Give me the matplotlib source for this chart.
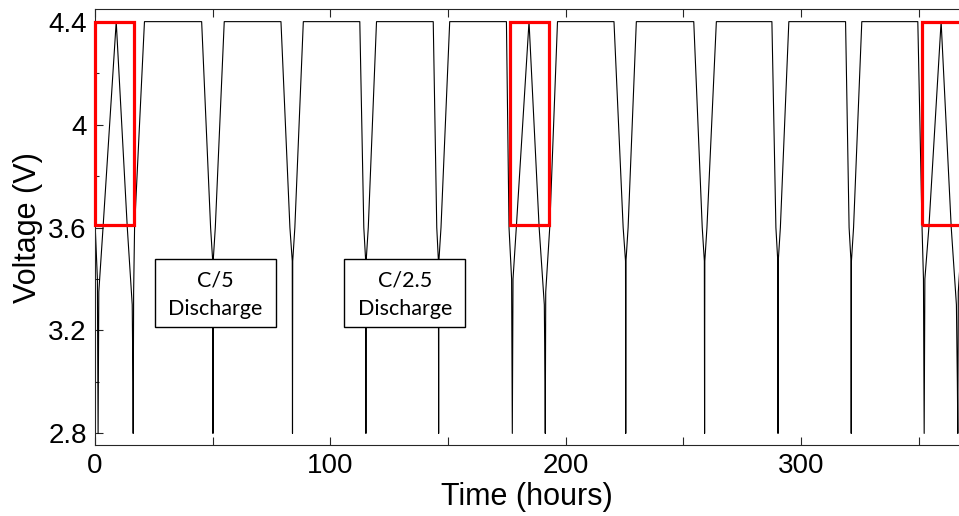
#!/usr/bin/env python3
"""
Voltage cycling trace with highlighted reference-performance tests.
"""

import matplotlib
matplotlib.use("Agg")
import matplotlib.pyplot as plt
from matplotlib.patches import Rectangle
from matplotlib.ticker import FixedLocator, FuncFormatter

# --- data (time in hours, voltage in V) ---
time_h = [
    # RPT 1
    0.0, 1.0, 1.3, 1.6, 3.4, 9.0, 13.7, 15.8, 16.1, 16.2, 16.4, 16.8, 21.0,
    # C/5 cycles
    45.3, 49.1, 50.0, 50.1, 50.2, 51.1, 54.9,
    79.0, 82.8, 83.8, 83.9, 84.0, 84.9, 88.5,
    # C/2.5 cycles
    112.5, 114.2, 115.0, 115.1, 115.2, 116.1, 119.6,
    143.7, 145.2, 145.9, 146.0, 146.1, 147.0, 150.7,
    # RPT 2
    174.8, 175.9, 177.0, 177.3, 177.6, 179.0, 184.4, 188.7, 190.9, 191.2,
    191.3, 191.5, 193.2, 196.5,
    # C/5 cycles
    220.5, 224.4, 225.4, 225.5, 225.6, 226.5, 230.0,
    254.4, 258.0, 258.9, 259.0, 259.1, 260.0, 264.0,
    # C/2.5 cycles
    287.6, 289.3, 290.1, 290.2, 290.3, 291.2, 294.8,
    318.9, 320.4, 321.2, 321.3, 321.4, 322.3, 325.8,
    # RPT 3
    349.6, 351.4, 352.0, 352.3, 352.6, 354.3, 359.5, 363.8, 366.0, 366.4,
    366.6, 366.8, 368.5, 372.0,
]
volt_v = [
    3.62, 3.40, 2.80, 3.35, 3.60, 4.40, 3.60, 3.30, 3.00, 2.80, 3.35, 3.60, 4.40,
    4.40, 3.60, 3.47, 2.80, 3.47, 3.60, 4.40,
    4.40, 3.60, 3.47, 2.80, 3.47, 3.60, 4.40,
    4.40, 3.60, 3.47, 2.80, 3.47, 3.60, 4.40,
    4.40, 3.60, 3.47, 2.80, 3.47, 3.60, 4.40,
    4.40, 3.60, 3.40, 2.80, 3.40, 3.60, 4.40, 3.60, 3.30, 3.00,
    2.80, 3.35, 3.60, 4.40,
    4.40, 3.60, 3.47, 2.80, 3.47, 3.60, 4.40,
    4.40, 3.60, 3.47, 2.80, 3.47, 3.60, 4.40,
    4.40, 3.60, 3.47, 2.80, 3.47, 3.60, 4.40,
    4.40, 3.60, 3.47, 2.80, 3.47, 3.60, 4.40,
    4.40, 3.60, 3.40, 2.80, 3.40, 3.60, 4.40, 3.60, 3.30, 3.00,
    2.80, 3.35, 3.60, 4.40,
]

# red highlight boxes (start hour, end hour), voltage window
rpt_start = [0.0, 176.2, 351.3]
rpt_end = [16.6, 192.8, 372.0]
rpt_v_low = 3.61
rpt_v_high = 4.40

# annotation boxes
note_text = ["C/5\nDischarge", "C/2.5\nDischarge"]
note_x0 = [25.5, 105.9]
note_x1 = [76.9, 157.3]
note_y0 = 3.212
note_y1 = 3.476

x_major = [0, 100, 200, 300]
x_minor = [50, 150, 250, 350]
y_major = [2.8, 3.2, 3.6, 4.0, 4.4]
y_minor = [3.0, 3.4, 3.8, 4.2]


def main() -> None:
    plt.rcParams["font.family"] = ["Liberation Sans", "DejaVu Sans"]
    fig = plt.figure(figsize=(9.59, 5.16), dpi=100)
    ax = fig.add_axes([0.0991, 0.1376, 0.9009, 0.8444])

    ax.plot(time_h, volt_v, color="black", lw=0.8, zorder=2)

    for x0, x1 in zip(rpt_start, rpt_end):
        ax.add_patch(Rectangle((x0, rpt_v_low), x1 - x0, rpt_v_high - rpt_v_low,
                               fill=False, edgecolor="#ff0000", lw=2.3,
                               zorder=3, clip_on=False))

    for txt, x0, x1 in zip(note_text, note_x0, note_x1):
        ax.add_patch(Rectangle((x0, note_y0), x1 - x0, note_y1 - note_y0,
                               facecolor="white", edgecolor="black", lw=1.0,
                               zorder=4))
        ax.text((x0 + x1) / 2, (note_y0 + note_y1) / 2 - 0.004, txt,
                ha="center", va="center", fontsize=15.5,
                family=["Lato", "DejaVu Sans"], linespacing=1.55, zorder=5)

    ax.set_xlim(0, 367.1)
    ax.set_ylim(2.755, 4.448)

    ax.xaxis.set_major_locator(FixedLocator(x_major))
    ax.xaxis.set_minor_locator(FixedLocator(x_minor))
    ax.yaxis.set_major_locator(FixedLocator(y_major))
    ax.yaxis.set_minor_locator(FixedLocator(y_minor))
    ax.yaxis.set_major_formatter(FuncFormatter(lambda v, _: f"{v:g}"))

    ax.tick_params(which="both", direction="in", top=True, right=False,
                   color="#262626", width=0.8, labelsize=20, pad=6)
    ax.tick_params(which="major", length=6)
    ax.tick_params(axis="x", which="minor", length=6)
    ax.tick_params(axis="y", which="minor", length=3)

    ax.spines["right"].set_visible(False)
    for side in ("left", "top", "bottom"):
        ax.spines[side].set_color("#262626")
        ax.spines[side].set_linewidth(0.8)

    ax.set_xlabel("Time (hours)", fontsize=22, labelpad=2)
    ax.set_ylabel("Voltage (V)", fontsize=22, labelpad=4)

    fig.savefig("out.png", dpi=100)
    plt.close(fig)


if __name__ == "__main__":
    main()
